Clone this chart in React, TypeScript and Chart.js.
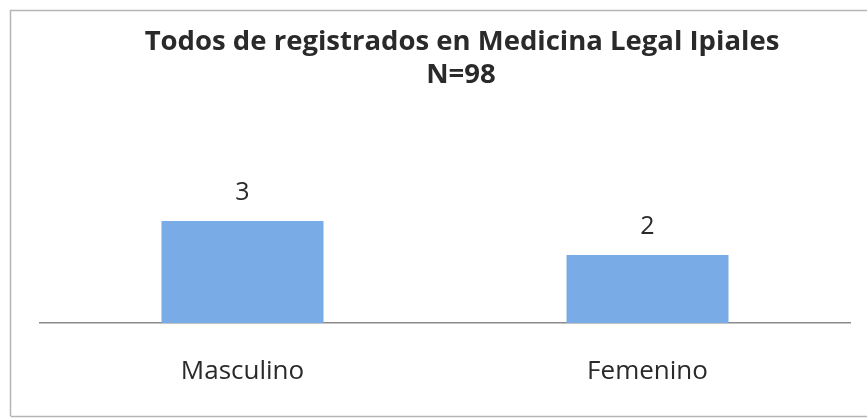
import React, { useEffect, useRef } from "react";
import { Chart, registerables } from "chart.js";

Chart.register(...registerables);

const categories = ["Masculino", "Femenino"];
const values = [3, 2];
const titleLines = ["Todos de registrados en Medicina Legal Ipiales", "N=98"];

const FONT = "'Open Sans', sans-serif";

export default function App() {
  const ref = useRef<HTMLCanvasElement | null>(null);
  useEffect(() => {
    document.body.style.margin = "0";
    const canvas = ref.current!;
    const framePlugin = {
      id: "frame",
      beforeDraw(chart: any) {
        const ctx = chart.ctx;
        ctx.save();
        ctx.fillStyle = "#ffffff";
        ctx.fillRect(0, 0, chart.width, chart.height);
        ctx.strokeStyle = "#b5b5b5";
        ctx.lineWidth = 1.5;
        ctx.beginPath();
        ctx.moveTo(10.5, 416);
        ctx.lineTo(10.5, 10.5);
        ctx.lineTo(867, 10.5);
        ctx.stroke();
        ctx.beginPath();
        ctx.moveTo(10.5, 416.5);
        ctx.lineTo(867, 416.5);
        ctx.stroke();
        ctx.restore();
      },
      afterDraw(chart: any) {
        const ctx = chart.ctx;
        ctx.save();
        ctx.fillStyle = "#2a2a2a";
        ctx.textAlign = "center";
        ctx.textBaseline = "middle";
        ctx.font = `bold 27.5px ${FONT}`;
        ctx.fillText(titleLines[0], 462, 42);
        ctx.fillText(titleLines[1], 461, 75);
        ctx.font = `25px ${FONT}`;
        const meta = chart.getDatasetMeta(0);
        meta.data.forEach((bar: any, i: number) => {
          ctx.fillText(String(values[i]), bar.x, bar.y - 28);
        });
        ctx.restore();
      },
    };
    const chart = new Chart(canvas, {
      type: "bar",
      data: {
        labels: categories,
        datasets: [
          {
            data: values,
            backgroundColor: "#79ace6",
            borderWidth: 0,
            categoryPercentage: 1,
            barPercentage: 0.4,
          },
        ],
      },
      options: {
        animation: false,
        responsive: false,
        layout: { padding: { top: 187, left: 40, right: 17, bottom: 0 } },
        plugins: { legend: { display: false }, title: { display: false }, tooltip: { enabled: false } },
        scales: {
          x: {
            grid: { display: false, drawTicks: false, tickLength: 0 },
            border: { display: true, color: "#8a8a8a", width: 1.5 },
            ticks: { color: "#2a2a2a", font: { family: FONT, size: 26 }, padding: 33 },
            afterFit: (scale: any) => {
              scale.height = 95;
            },
          },
          y: { display: false, min: 0, max: 4 },
        },
      },
      plugins: [framePlugin],
    });
    return () => chart.destroy();
  }, []);
  return <canvas ref={ref} width={867} height={418} style={{ display: "block" }} />;
}
